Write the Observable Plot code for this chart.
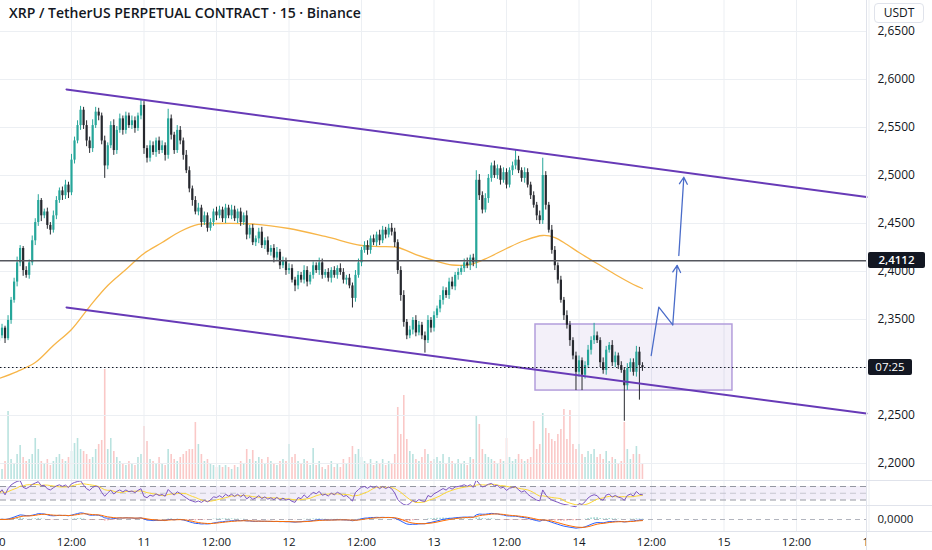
<!DOCTYPE html>
<html><head><meta charset="utf-8">
<script src="https://cdn.jsdelivr.net/npm/d3@7"></script>
<script src="https://cdn.jsdelivr.net/npm/@observablehq/plot@0.6"></script>
<style>
body{margin:0;background:#fff;font-family:"Open Sans",sans-serif;}
#wrap{position:relative;width:932px;height:550px;overflow:hidden;background:#fff;}
.abs{position:absolute;}
.sep{position:absolute;background:#e0e3eb;}
.tag{position:absolute;background:#131722;color:#fff;font:600 11.5px "Open Sans",sans-serif;line-height:16px;height:16px;text-align:center;border-radius:2px;}
</style></head><body><div id="wrap"></div>
<script>
// ---------- data ----------
const startDay = Date.UTC(2025, 1, 10);           // Feb 10, 00:00 UTC
const candleHours = 0.5;                          // candle step (hours)
const firstOpen = 2.327;
const closes = [
2.333,2.341,2.330,2.349,2.370,2.389,2.409,2.424,2.401,2.396,
2.409,2.432,2.451,2.474,2.458,2.462,2.448,2.443,2.458,2.474,
2.484,2.479,2.490,2.482,2.516,2.536,2.552,2.568,2.552,2.536,
2.528,2.552,2.566,2.562,2.536,2.510,2.531,2.552,2.526,2.547,
2.559,2.547,2.562,2.552,2.557,2.549,2.562,2.573,2.528,2.518,
2.531,2.524,2.536,2.526,2.531,2.521,2.559,2.542,2.526,2.547,
2.536,2.521,2.505,2.486,2.474,2.462,2.466,2.451,2.458,2.445,
2.451,2.462,2.458,2.464,2.455,2.466,2.458,2.464,2.455,2.462,
2.451,2.458,2.438,2.445,2.430,2.434,2.441,2.427,2.432,2.420,
2.424,2.414,2.420,2.406,2.411,2.401,2.403,2.391,2.385,2.396,
2.391,2.401,2.389,2.396,2.406,2.401,2.409,2.396,2.399,2.393,
2.401,2.396,2.403,2.399,2.391,2.393,2.385,2.372,2.396,2.409,
2.422,2.427,2.422,2.434,2.430,2.438,2.432,2.443,2.438,2.445,
2.441,2.430,2.401,2.375,2.347,2.333,2.339,2.349,2.336,2.344,
2.333,2.328,2.349,2.341,2.354,2.361,2.370,2.380,2.375,2.389,
2.384,2.396,2.399,2.403,2.409,2.406,2.414,2.409,2.495,2.479,
2.464,2.476,2.497,2.510,2.500,2.507,2.495,2.503,2.490,2.505,
2.510,2.516,2.505,2.497,2.503,2.490,2.479,2.469,2.458,2.453,
2.500,2.469,2.443,2.422,2.406,2.391,2.370,2.354,2.344,2.328,
2.312,2.295,2.307,2.292,2.302,2.318,2.328,2.333,2.328,2.305,
2.297,2.318,2.323,2.305,2.312,2.302,2.297,2.281,2.299,2.305,
2.295,2.316,2.302,2.300];
// upper / lower wick lengths (thousandths of USDT)
const wickUp = [
3,4,2,5,3,4,6,3,2,4, 3,5,4,6,2,3,4,3,5,4, 3,4,5,3,6,4,5,4,3,5, 4,6,5,4,3,5,3,4,6,4,
5,3,4,3,5,4,3,6,4,3, 5,4,3,4,5,3,10,4,3,5, 4,3,5,4,3,4,5,3,4,3, 4,3,5,4,3,4,3,5,4,3,
4,3,5,3,4,3,4,5,3,4, 3,4,5,3,4,3,5,4,3,4, 3,5,4,3,4,3,5,4,3,4, 3,4,3,5,4,3,4,3,5,4,
3,4,5,3,4,3,5,4,3,4, 5,4,3,4,5,3,4,3,5,4, 3,4,5,3,4,3,5,4,3,4, 5,3,4,3,4,5,3,4,10,6,
4,5,4,3,5,4,3,5,4,3, 4,11,4,3,5,4,3,4,3,5, 18,4,3,5,4,3,4,3,5,4, 3,4,5,3,4,5,4,13,4,3,
5,4,3,5,4,3,4,3,5,4, 4,6,5,3];
const wickDn = [
4,3,5,2,4,3,5,4,6,3, 4,3,5,4,6,3,4,5,3,4, 3,5,4,6,3,4,3,5,4,6, 5,4,3,5,4,13,4,3,5,4,
3,5,4,3,4,5,3,4,6,5, 4,3,5,4,3,6,4,5,4,3, 4,5,3,4,6,3,4,5,3,4, 3,4,5,3,4,5,3,4,3,5,
4,3,5,4,3,4,5,3,4,3, 4,5,3,4,3,5,4,3,6,4, 3,4,5,3,4,3,5,4,3,4, 5,3,4,3,4,5,3,10,4,3,
4,3,5,4,3,4,5,3,4,3, 4,5,4,6,5,4,3,5,4,3, 4,13,3,5,4,3,4,5,3,4, 3,4,5,3,4,3,5,4,6,5,
4,3,5,4,3,4,5,3,4,3, 5,4,3,4,5,3,4,3,5,4, 4,5,3,4,5,4,3,5,4,6, 4,19,5,16,4,3,5,4,3,5,
4,5,3,4,5,4,3,37,5,4, 4,5,36,4];
const volumes = [
8,10,18,68,20,16,25,34,22,18, 20,25,41,30,18,15,20,14,18,22, 25,20,18,22,28,36,41,30,28,25,
20,22,30,35,39,110,30,41,28,22, 18,15,14,18,16,14,22,25,53,38, 20,18,15,22,16,14,30,25,20,18,
22,25,28,30,30,57,35,25,18,20, 15,14,12,14,12,14,12,10,14,12, 18,15,30,20,29,18,22,20,15,22,
18,16,14,18,20,18,35,22,25,18, 15,20,18,14,31,14,18,12,10,14, 18,12,15,12,20,15,22,33,25,30,
22,18,15,20,14,18,15,20,14,18, 15,25,72,45,84,40,28,25,20,18, 22,30,25,18,20,22,18,25,15,22,
18,16,20,15,18,14,22,20,64,55, 30,25,22,20,18,15,20,18,41,22, 18,20,25,20,18,20,22,58,30,35,
66,51,46,40,38,45,50,70,40,69, 35,30,35,25,22,28,25,30,22,25, 20,28,18,22,20,15,18,57,30,20,
25,33,25,15];
// moving average (hours since Feb 10 00:00)
const maHours = [0,3,6,9,12,15,18,21,24,27,30,33,36,42,48,54,60,63,66,69,72,75,78,81,84,87,90,92,94,96,99,102,105,106.5];
const maValues = [2.2886,2.2958,2.3052,2.3229,2.3396,2.3635,2.3854,2.4021,2.4188,2.4302,2.4417,2.4490,2.4500,2.4495,2.4448,2.4365,2.4271,2.4260,2.4250,2.4177,2.4115,2.4068,2.4073,2.4146,2.4240,2.4323,2.4375,2.4354,2.4281,2.4198,2.4083,2.3969,2.3865,2.3823];
// drawings
const channelHours = [11.17, 143.586];
const upperPrices = [2.5896, 2.4776];
const lowerPrices = [2.3625, 2.2521];
const boxHours = [88.8, 121.4];
const boxPrices = [2.2760, 2.3448];
const zigHours = [107.95, 109.21, 111.52, 112.25];
const zigPrices = [2.3125, 2.3628, 2.3445, 2.4063];
const arrow2Hours = [112.52, 113.35];
const arrow2Prices = [2.4167, 2.4982];
const levelPrice = 2.4112;
const levelLabel = "2,4112";
const countdown = "07:25";
// axes
const priceGrid = [2.20,2.25,2.30,2.35,2.40,2.45,2.50,2.55,2.60,2.65];
const priceLabels = [2.20,2.25,2.35,2.40,2.45,2.50,2.55,2.60,2.65];
const xTickHours = [0,12,24,36,48,60,72,84,96,108,120,132,144];
const xTickLabels = ["10","12:00","11","12:00","12","12:00","13","12:00","14","12:00","15","12:00","16"];
const title = "XRP / TetherUS PERPETUAL CONTRACT · 15 · Binance";
const currency = "USDT";

// ---------- build ----------
const HR = 3600e3;
const T = h => new Date(startDay + h * HR);
const candles = closes.map((c, i) => {
  const o = i ? closes[i - 1] : firstOpen;
  return {t: T(i * candleHours), o, c, h: Math.max(o, c) + wickUp[i] / 1000, l: Math.min(o, c) - wickDn[i] / 1000, v: volumes[i], up: c >= o};
});
const xDomain = [T(0.2483), T(143.586)];
const timeTicks = xTickHours.map(T);
const W = 932, MR = 66;
const TEAL = "#26a69a", DARK = "#26282e";
const fontStyle = {fontFamily: "'Open Sans', sans-serif", fontSize: "12px", color: "#131722", background: "transparent", overflow: "visible"};

// indicators derived from closes
function ema(arr, n) { const a = 2 / (n + 1); let e = arr[0]; return arr.map(v => (e = e + a * (v - e))); }
const rsiN = 7; let ag = 0.003, al = 0.003;
const rsiVals = closes.map((c, i) => {
  const ch = i ? c - closes[i - 1] : 0;
  ag = (ag * (rsiN - 1) + Math.max(ch, 0)) / rsiN; al = (al * (rsiN - 1) + Math.max(-ch, 0)) / rsiN;
  return 100 - 100 / (1 + ag / al);
});
const rsiMa = rsiVals.map((_, i) => d3.mean(rsiVals.slice(Math.max(0, i - 6), i + 1)));
const e1 = ema(closes, 6), e2 = ema(closes, 13);
const macd = e1.map((v, i) => v - e2[i]);
const signal = ema(macd, 5);
const ind = candles.map((d, i) => ({t: d.t, rsi: rsiVals[i], rsiMa: rsiMa[i], macd: macd[i], sig: signal[i], hist: macd[i] - signal[i]}));
const k = d3.max(ind, d => Math.max(Math.abs(d.macd), Math.abs(d.sig))) * 1.5;

const wrap = document.getElementById("wrap");
function put(el, top, left = 0) { el.style.position = "absolute"; el.style.top = top + "px"; el.style.left = left + "px"; wrap.appendChild(el); return el; }
function div(cls, css, text) { const d = document.createElement("div"); d.className = cls; Object.assign(d.style, css); if (text) d.textContent = text; wrap.appendChild(d); return d; }

// volume (behind)
const volPlot = Plot.plot({
  width: W, height: 110, marginLeft: 0, marginRight: MR, marginTop: 0, marginBottom: 0,
  x: {type: "utc", domain: xDomain, axis: null}, y: {domain: [0, 110], axis: null},
  style: fontStyle,
  marks: [Plot.ruleX(candles, {x: "t", y1: 0, y2: "v", stroke: d => d.up ? "rgba(38,166,154,0.32)" : "rgba(239,83,80,0.32)", strokeWidth: 1.6})]
});

const main = Plot.plot({
  width: W, height: 480, marginLeft: 0, marginRight: MR, marginTop: 0, marginBottom: 0,
  x: {type: "utc", domain: xDomain, axis: null},
  y: {domain: [2.6823 - 0.5, 2.6823], axis: "right", ticks: priceLabels, tickFormat: d => d.toFixed(4).replace(".", ","), tickSize: 0, tickPadding: 11, label: null},
  style: fontStyle,
  marks: [
    Plot.gridX(timeTicks, {stroke: "#eceff3", strokeOpacity: 1}),
    Plot.gridY(priceGrid, {stroke: "#eceff3", strokeOpacity: 1}),
    Plot.rect([0], {x1: T(boxHours[0]), x2: T(boxHours[1]), y1: boxPrices[0], y2: boxPrices[1], fill: "#7e57c2", fillOpacity: 0.09, stroke: "#b39ddb", strokeWidth: 1.5}),
    Plot.line(maHours.map((h, i) => ({t: T(h), v: maValues[i]})), {x: "t", y: "v", stroke: "#f7b548", strokeWidth: 1.3, curve: "catmull-rom"}),
    Plot.ruleX(candles, {x: "t", y1: "l", y2: "h", stroke: d => d.up ? TEAL : DARK, strokeWidth: 1}),
    Plot.ruleX(candles, {x: "t", y1: "o", y2: "c", stroke: d => d.up ? TEAL : DARK, strokeWidth: 2.2}),
    Plot.line(channelHours.map((h, i) => ({t: T(h), v: upperPrices[i]})), {x: "t", y: "v", stroke: "#673ab7", strokeWidth: 2}),
    Plot.line(channelHours.map((h, i) => ({t: T(h), v: lowerPrices[i]})), {x: "t", y: "v", stroke: "#673ab7", strokeWidth: 2}),
    Plot.ruleY([levelPrice], {stroke: "#55575e", strokeWidth: 1.5}),
    Plot.ruleY([closes[closes.length - 1]], {stroke: "#131722", strokeWidth: 1, strokeDasharray: "1.5,2.5"}),
    Plot.line(zigHours.slice(0, 3).map((h, i) => ({t: T(h), v: zigPrices[i]})), {x: "t", y: "v", stroke: "#4a6cc9", strokeWidth: 1.3}),
    Plot.arrow([0], {x1: T(zigHours[2]), y1: zigPrices[2], x2: T(zigHours[3]), y2: zigPrices[3], stroke: "#4a6cc9", strokeWidth: 1.3, headLength: 9}),
    Plot.arrow([0], {x1: T(arrow2Hours[0]), y1: arrow2Prices[0], x2: T(arrow2Hours[1]), y2: arrow2Prices[1], stroke: "#4a6cc9", strokeWidth: 1.3, headLength: 9})
  ]
});

const rsiPlot = Plot.plot({
  width: W, height: 25, marginLeft: 0, marginRight: MR, marginTop: 0, marginBottom: 0,
  x: {type: "utc", domain: xDomain, axis: null}, y: {domain: [13.7, 87.8], axis: null},
  style: fontStyle,
  marks: [
    Plot.gridX(timeTicks, {stroke: "#eceff3", strokeOpacity: 1}),
    Plot.rect([0], {x1: xDomain[0], x2: xDomain[1], y1: 30, y2: 70, fill: "#7e57c2", fillOpacity: 0.1}),
    Plot.ruleY([70, 30], {stroke: "#9598a1", strokeDasharray: "6,4"}),
    Plot.ruleY([50], {stroke: "#b2b5be", strokeDasharray: "6,4", strokeOpacity: 0.7}),
    Plot.line(ind, {x: "t", y: "rsiMa", stroke: "#fdd835", strokeWidth: 1}),
    Plot.line(ind, {x: "t", y: "rsi", stroke: "#7e57c2", strokeWidth: 1})
  ]
});

const macdPlot = Plot.plot({
  width: W, height: 45, marginLeft: 0, marginRight: MR, marginTop: 0, marginBottom: 19,
  x: {type: "utc", domain: xDomain, ticks: timeTicks, tickFormat: d => xTickLabels[xTickHours.indexOf(Math.round((d - startDay) / HR))], tickSize: 0, tickPadding: 5, label: null},
  y: {domain: [-k, k], axis: "right", ticks: [0], tickFormat: () => "0,0000", tickSize: 0, tickPadding: 11, label: null},
  style: {...fontStyle, fontSize: "11.5px"},
  marks: [
    Plot.gridX(timeTicks, {stroke: "#eceff3", strokeOpacity: 1}),
    Plot.ruleY([0], {stroke: "#b2b5be", strokeDasharray: "5,4"}),
    Plot.ruleX(ind, {x: "t", y1: 0, y2: "hist", stroke: d => d.hist >= 0 ? "rgba(38,166,154,0.45)" : "rgba(239,83,80,0.45)", strokeWidth: 1.6}),
    Plot.line(ind, {x: "t", y: "macd", stroke: "#2962ff", strokeWidth: 1}),
    Plot.line(ind, {x: "t", y: "sig", stroke: "#ff6d00", strokeWidth: 1})
  ]
});

put(volPlot, 369);
put(main, 0);
put(rsiPlot, 480);
put(macdPlot, 505.5);

// separators
div("sep", {left: "0px", top: "480px", width: W + "px", height: "1px"});
div("sep", {left: "0px", top: "505px", width: W + "px", height: "1px"});
div("sep", {left: "0px", top: "531px", width: W + "px", height: "1px"});
div("abs", {left: "867px", top: "532px", width: "65px", height: "18px", background: "#fff"});
div("sep", {left: "866px", top: "0px", width: "1px", height: "550px"});

// price tags
const ys = main.scale("y");
div("tag", {left: "868px", top: (ys.apply(levelPrice) - 8) + "px", width: "57px"}, levelLabel);
div("tag", {left: "868px", top: (ys.apply(closes[closes.length - 1]) - 8) + "px", width: "44px", fontWeight: "500"}, countdown);

// title & currency
div("abs", {left: "9px", top: "3px", font: "600 14px 'Open Sans', sans-serif", color: "#131722", whiteSpace: "nowrap"}, title);
div("abs", {left: "874px", top: "3px", width: "50px", height: "20px", lineHeight: "20px", textAlign: "center", border: "1px solid #e0e3eb", borderRadius: "4px", font: "12px 'Open Sans', sans-serif", color: "#131722", background: "#fff", boxSizing: "border-box"}, currency);
</script></body></html>
